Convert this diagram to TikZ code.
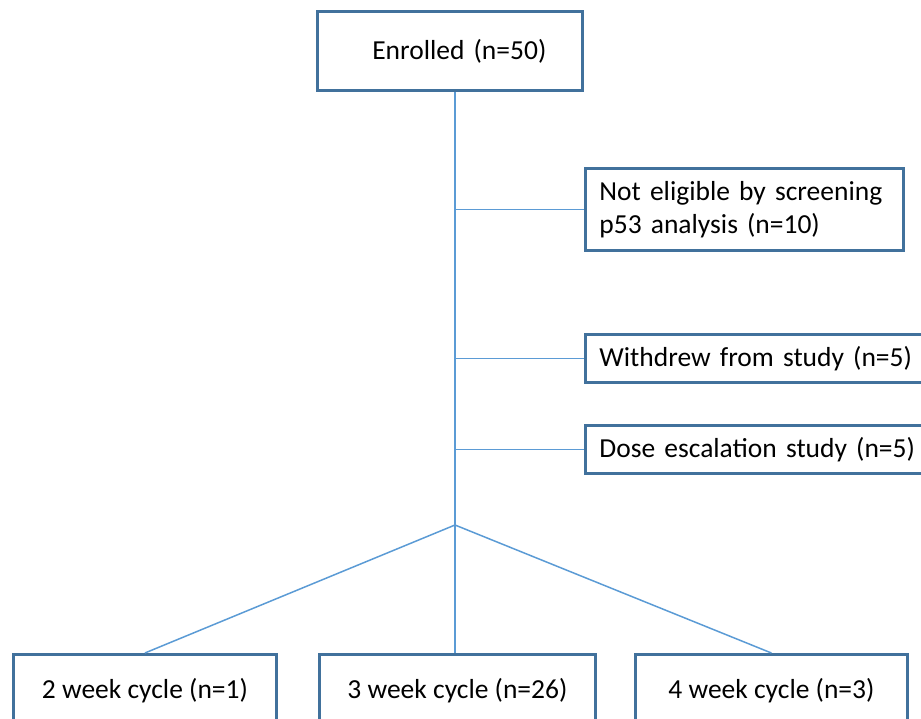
\documentclass[tikz,border=0pt]{standalone}
\usepackage{fontspec}
\setmainfont{Carlito}
\definecolor{boxblue}{RGB}{65,113,156}
\definecolor{lineblue}{RGB}{91,155,213}

\begin{document}
\begin{tikzpicture}[x=1pt,y=-1pt,
			box/.style={draw=boxblue,line width=2.8pt,anchor=north west,inner ysep=0pt,font=\fontsize{27.5}{33}\selectfont},
			link/.style={draw=lineblue,line width=1.5pt}]
			\path[use as bounding box,clip] (0,0) rectangle (921,719);
			
			\node[box,inner xsep=36pt,text width=193pt,align=right,minimum height=79pt] (enrol) at (316,10) {Enrolled (n=50)};
			\node[box,inner xsep=14pt,text width=290pt,align=left,minimum height=82pt] (elig) at (584,167) {Not eligible by screening\\p53 analysis (n=10)};
			\node[box,inner xsep=14pt,text width=452pt,align=left,minimum height=48pt] (quit) at (584,333) {Withdrew from study (n=5)};
			\node[box,inner xsep=14pt,text width=452pt,align=left,minimum height=48pt] (dose) at (584,424) {Dose escalation study (n=5)};
			
			\node[box,minimum width=263pt,minimum height=72pt] (wk2) at (12,653) {2 week cycle (n=1)};
			\node[box,minimum width=276pt,minimum height=72pt] (wk3) at (318,653) {3 week cycle (n=26)};
			\node[box,minimum width=272pt,minimum height=72pt] (wk4) at (634,653) {4 week cycle (n=3)};
			
			\coordinate (split) at (455,525);
			\draw[link] (enrol.south -| split) -- (split);
			\draw[link] (split |- elig.west) -- (elig.west);
			\draw[link] (split |- quit.west) -- (quit.west);
			\draw[link] (split |- dose.west) -- (dose.west);
			\draw[link] (split) -- (wk2.north);
			\draw[link] (split) -- (split |- wk3.north);
			\draw[link] (split) -- (wk4.north);
\end{tikzpicture}
\end{document}
